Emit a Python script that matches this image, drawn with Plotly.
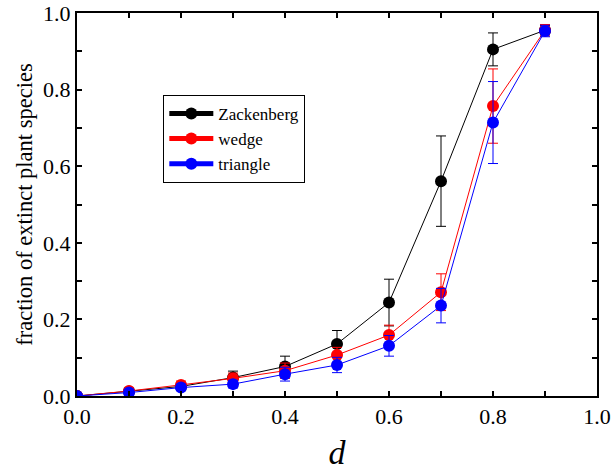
import plotly.graph_objects as go

d = [0.0, 0.1, 0.2, 0.3, 0.4, 0.5, 0.6, 0.7, 0.8, 0.9]
zack = [0.0, 0.012, 0.025, 0.048, 0.077, 0.136, 0.244, 0.561, 0.905, 0.955]
zack_err = [0.0, 0.006, 0.01, 0.017, 0.027, 0.035, 0.061, 0.118, 0.043, 0.012]
wedge = [0.0, 0.013, 0.029, 0.046, 0.066, 0.107, 0.159, 0.271, 0.757, 0.955]
wedge_err = [0.0, 0.006, 0.01, 0.014, 0.02, 0.02, 0.026, 0.048, 0.097, 0.015]
tri = [0.0, 0.009, 0.022, 0.031, 0.057, 0.081, 0.131, 0.236, 0.714, 0.953]
tri_err = [0.0, 0.005, 0.008, 0.01, 0.018, 0.02, 0.027, 0.045, 0.107, 0.015]

series = [("Zackenberg", zack, zack_err, "black"),
          ("wedge", wedge, wedge_err, "red"),
          ("triangle", tri, tri_err, "blue")]

fig = go.Figure()
for name, y, e, c in series:
    fig.add_trace(go.Scatter(
        x=d, y=y, name=name, mode="lines+markers",
        line=dict(color=c, width=1),
        marker=dict(color=c, size=12),
        error_y=dict(type="data", array=e, visible=True, color=c, thickness=1, width=5),
    ))

font = "Liberation Serif"
axis_common = dict(
    showgrid=False, zeroline=False, showline=True, linecolor="black", linewidth=2,
    mirror="ticks", ticks="inside", ticklen=5, tickwidth=1.5, tickcolor="black",
    tickfont=dict(family=font, size=22, color="black"), ticklabeloverflow="allow",
    minor=dict(ticks="inside", ticklen=5, tickwidth=1.5, tickcolor="black", dtick=0.1),
)
fig.update_xaxes(range=[0, 1.0], dtick=0.2, tickformat=".1f",
                 title=dict(text="<i>d</i>", font=dict(family=font, size=34, color="black"), standoff=12),
                 **axis_common)
fig.update_yaxes(range=[0, 1.0], dtick=0.2, tickformat=".1f",
                 title=dict(text="fraction of extinct plant species", font=dict(family=font, size=22.5, color="black"), standoff=4),
                 **axis_common)

fig.update_layout(
    width=612, height=472,
    margin=dict(l=77, r=15, t=13, b=76, autoexpand=False),
    plot_bgcolor="white", paper_bgcolor="white",
    font=dict(family=font, color="black"),
    legend=dict(x=0.166, y=0.786, xanchor="left", yanchor="top",
                bordercolor="black", borderwidth=1, bgcolor="white",
                font=dict(family=font, size=17, color="black"),
                tracegroupgap=0, itemsizing="constant", itemwidth=44),
    showlegend=True,
)

fig.write_html("out.html", config={"displayModeBar": False},
               post_script="document.body.style.margin='0';document.body.style.overflow='hidden';")
